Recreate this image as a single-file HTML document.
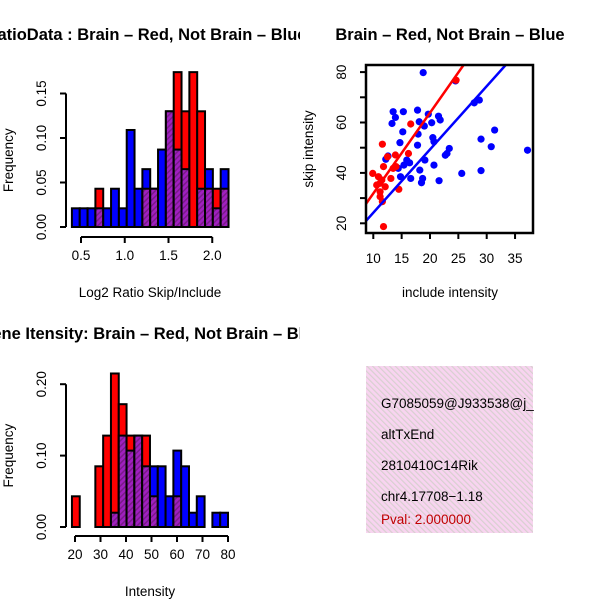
<!DOCTYPE html>
<html><head><meta charset="utf-8"><style>body{margin:0;background:#fff}svg{display:block}text{font-family:"Liberation Sans",sans-serif}</style></head>
<body>
<svg id="s" width="600" height="600">
<defs>
<pattern id="hp" width="4" height="4" patternUnits="userSpaceOnUse" patternTransform="rotate(45)"><rect width="4" height="4" fill="#a020c0"/><rect width="1.5" height="4" fill="#7a1a8a"/></pattern>
<pattern id="pk" width="4" height="4" patternUnits="userSpaceOnUse" patternTransform="rotate(-45)"><rect width="4" height="4" fill="#f8d4f0"/><rect width="1.2" height="4" fill="#d8d0d0"/></pattern>
<clipPath id="c1"><rect x="0" y="0" width="300" height="300"/></clipPath>
<clipPath id="c3"><rect x="0" y="300" width="300" height="300"/></clipPath>
<clipPath id="c4"><rect x="300" y="300" width="300" height="300"/></clipPath>
<clipPath id="cs"><rect x="366" y="65" width="167" height="168"/></clipPath>
</defs>
<g id="p1" clip-path="url(#c1)"></g>
<g id="p2"></g>
<g id="p3" clip-path="url(#c3)"></g>
<g clip-path="url(#c4)">
<rect x="366" y="366" width="167" height="167" fill="url(#pk)"/>
<text x="381" y="408" font-size="13.5">G7085059@J933538@j_</text>
<text x="381" y="439" font-size="13.5">altTxEnd</text>
<text x="381" y="470" font-size="13.5">2810410C14Rik</text>
<text x="381" y="501" font-size="13.5">chr4.17708−1.18</text>
<text x="381" y="524" font-size="13.5" fill="#c00000">Pval: 2.000000</text>
</g>
</svg>
<script>
const h1Blue=[0.021,0.021,0.021,0.021,0.021,0.043,0.021,0.109,0.043,0.065,0.043,0.087,0.13,0.087,0.065,0,0.043,0.065,0.021,0.065];
const h1Red=[0,0,0,0.043,0,0,0,0,0,0.043,0.043,0,0.13,0.174,0.13,0.174,0.13,0.043,0.043,0.043];
const h1XTicks=["0.5","1.0","1.5","2.0"];
const h1YTicks=["0.00","0.05","0.10","0.15"];
const h3Blue=[0,0,0,0,0,0.02,0.128,0.107,0.128,0.085,0.085,0.085,0.043,0.107,0.085,0.02,0.043,0,0.02,0.02];
const h3Red=[0.043,0,0,0.085,0.128,0.215,0.172,0.128,0.128,0.128,0.043,0,0,0.043,0,0,0,0,0,0];
const h3XTicks=["20","30","40","50","60","70","80"];
const h3YTicks=["0.00","0.10","0.20"];
const blueX=[18.8,24.5,27.8,28.7,31.4,29,30.8,37.2,29,25.6,21.6,13.5,15.3,17.8,13.9,13.3,19.7,21.5,21.8,18.1,19,20.3,15.2,17.9,14.7,17.8,20.5,20.7,23.4,23,22.7,12.2,12.6,15.9,16.4,15.4,19.1,20.7,14.4,18.2,14.8,16.6,18.7,18.5];
const blueY=[79.8,76.5,67.8,68.9,57,53.4,50.4,49,40.9,39.8,36.9,64.3,64.3,64.9,62,59.6,63.3,62.5,61,60.3,58.6,59.9,56.3,55.4,52,51,54,52.4,49.7,47.7,47,45.4,46.7,45.1,44,43.1,45.1,43.1,41.8,41.1,38.5,37.8,37.8,36.1];
const redX=[24.6,16.6,11.6,13.9,16.2,12.5,9.9,11.8,13.5,13.1,10.9,11.2,12.1,10.6,11.5,11.2,11.2,11.6,14.5,11.8,14];
const redY=[76.8,59.4,51.4,47.1,47.7,46.4,39.8,42.5,41.8,37.8,38.5,35.9,34.5,35.2,37.2,32.5,30.6,28.6,33.5,18.7,42.5];
const fitRed=[-0.14,3.2];
const fitBlue=[-0.9,2.51];
const sXTicks=[10,15,20,25,30,35];
const sYTicks=[20,30,40,50,60,70,80];
const sYLabels=["20","","40","","60","","80"];
const NS="http://www.w3.org/2000/svg";
function mk(g,t,a){const e=document.createElementNS(NS,t);for(const k in a)e.setAttribute(k,a[k]);g.appendChild(e);return e;}
function txt(g,x,y,s,o){const e=mk(g,'text',Object.assign({x:x,y:y,'font-size':13.5,'text-anchor':'middle'},o||{}));e.textContent=s;return e;}
function hist(g,blue,red,x0,bw,xs,ys,xticks,yticks,base,title,xlab,ylab){
  for(let i=0;i<blue.length;i++){
    const xa=xs(x0+i*bw),xb=xs(x0+(i+1)*bw);
    const b=blue[i],r=red[i],mx=Math.max(b,r),mn=Math.min(b,r);
    if(mx>0){const e=mk(g,'rect',{x:xa,y:ys(mx),width:xb-xa,height:ys(0)-ys(mx),fill:b>=r?'#0000ff':'#ff0000',stroke:'#000','stroke-width':2});
      
      }
    if(mn>0){const e=mk(g,'rect',{x:xa,y:ys(mn),width:xb-xa,height:ys(0)-ys(mn),fill:'url(#hp)',stroke:'#000','stroke-width':2});
      
      }
  }
  const xa=xs(+xticks[0]),xb=xs(+xticks[xticks.length-1]);
  mk(g,'line',{x1:xa,x2:xb,y1:base,y2:base,stroke:'#000','stroke-width':2});
  xticks.forEach(t=>{mk(g,'line',{x1:xs(+t),x2:xs(+t),y1:base,y2:base+6,stroke:'#000','stroke-width':2});txt(g,xs(+t),base+23,t);});
  const ya=ys(0),yb=ys(+yticks[yticks.length-1]);
  mk(g,'line',{x1:66,x2:66,y1:ya,y2:yb,stroke:'#000','stroke-width':2});
  yticks.forEach(t=>{const y=ys(+t);mk(g,'line',{x1:60,x2:66,y1:y,y2:y,stroke:'#000','stroke-width':2});txt(g,46,y,t,{transform:'rotate(-90 46 '+y+')'});});
  txt(g,title[2],title[1],title[0],{'font-size':16.5,'font-weight':'bold'});
  txt(g,150,base+60,xlab);
  txt(g,13,(ya+yb)/2,ylab,{transform:'rotate(-90 13 '+((ya+yb)/2)+')'});
}
const p1=document.getElementById('p1');
const xs1=v=>81+(v-0.5)*87.5, ys1=v=>227-v*890;
hist(p1,h1Blue,h1Red,0.396,0.0895,xs1,ys1,h1XTicks,h1YTicks,237,["Log2 RatioData : Brain – Red, Not Brain – Blue",40,124],"Log2 Ratio Skip/Include","Frequency");
const p3=document.getElementById('p3');
const xs3=v=>75+(v-20)*2.55, ys3=v=>527-v*714;
hist(p3,h3Blue,h3Red,18.8,3.06,xs3,ys3,h3XTicks,h3YTicks,536,["Gene Itensity: Brain – Red, Not Brain – Blue",339,151],"Intensity","Frequency");
const p2=document.getElementById('p2');
const sx=v=>373.3+(v-10)*5.67, sy=v=>223.3-(v-20)*2.52;
const inner=mk(p2,'g',{'clip-path':'url(#cs)'});
blueX.forEach((x,i)=>{const c=mk(inner,'circle',{cx:sx(x),cy:sy(blueY[i]),r:3.6,fill:'#0000ff'});
  
  });
redX.forEach((x,i)=>{const c=mk(inner,'circle',{cx:sx(x),cy:sy(redY[i]),r:3.6,fill:'#ff0000'});
  
  });
[[fitRed,'#ff0000','red-fit-line'],[fitBlue,'#0000ff','blue-fit-line']].forEach(([f,c,n])=>{
  const l=mk(inner,'line',{x1:sx(5),y1:sy(f[0]+f[1]*5),x2:sx(40),y2:sy(f[0]+f[1]*40),stroke:c,'stroke-width':2.5});
  
  });
mk(p2,'rect',{x:366,y:65,width:167,height:168,fill:'none',stroke:'#000','stroke-width':2.5});
sXTicks.forEach(t=>{mk(p2,'line',{x1:sx(t),x2:sx(t),y1:233,y2:239,stroke:'#000','stroke-width':2});txt(p2,sx(t),263,String(t));});
sYTicks.forEach((t,i)=>{const y=sy(t);mk(p2,'line',{x1:360,x2:366,y1:y,y2:y,stroke:'#000','stroke-width':2});if(sYLabels[i])txt(p2,346,y,sYLabels[i],{transform:'rotate(-90 346 '+y+')'});});
txt(p2,450,40,"Brain – Red, Not Brain – Blue",{'font-size':16.5,'font-weight':'bold'});
txt(p2,450,297,"include intensity");
txt(p2,313,149,"skip intensity",{transform:'rotate(-90 313 149)'});
</script>
</body></html>
